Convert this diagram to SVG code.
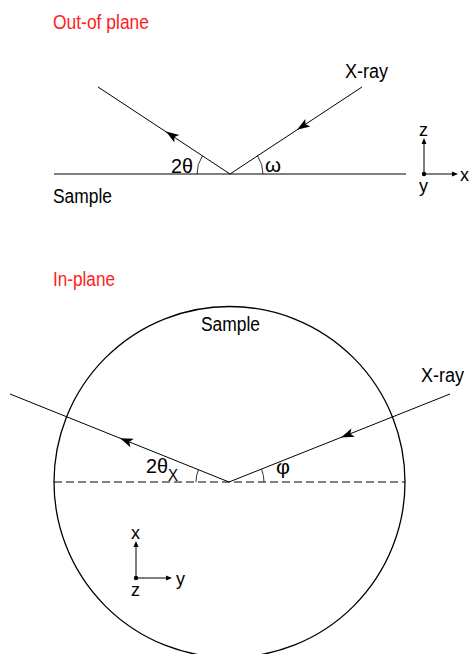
<svg xmlns="http://www.w3.org/2000/svg" width="471" height="654" viewBox="0 0 471 654">
<style>
text{font-family:"Liberation Sans",Arial,sans-serif;fill:#000}
.t{font-size:20px;fill:#ff2020}
.l{font-size:20px}
.a{font-size:18px}
.ln{stroke:#000;stroke-width:1;fill:none}
.c{stroke:#000;stroke-width:1.3;fill:none}
.d{stroke:#000;stroke-width:1;stroke-dasharray:8 4;fill:none}
.arc{stroke:#000;stroke-width:0.8;fill:none}
</style>
<defs>
<path id="ah" d="M0,0 L-13,-4.5 L-10,0 L-13,4.5 Z" fill="#000"/>
<path id="sah" d="M0,0 L-6,-2.5 L-6,2.5 Z" fill="#000"/>
</defs>
<g id="out-of-plane">
<text class="t" x="53" y="29" textLength="96" lengthAdjust="spacingAndGlyphs">Out-of plane</text>
<g id="sample-top">
<line class="ln" x1="54" y1="174" x2="406" y2="174"/>
<text class="l" x="53" y="203" textLength="59" lengthAdjust="spacingAndGlyphs">Sample</text>
</g>
<g id="connectors-top">
<line class="ln" x1="230" y1="174" x2="98" y2="87"/>
<line class="ln" x1="362" y1="87" x2="230" y2="174"/>
<use href="#ah" transform="translate(166,131.5) rotate(213.4)"/>
<use href="#ah" transform="translate(297,129.8) rotate(146.6)"/>
<path class="arc" d="M197,174 A33,33 0 0 1 202.45,155.84"/>
<path class="arc" d="M263,174 A33,33 0 0 0 257.55,155.84"/>
</g>
<text class="l" x="171" y="173" textLength="22" lengthAdjust="spacingAndGlyphs">2θ</text>
<text class="l" x="265" y="172" textLength="16" lengthAdjust="spacingAndGlyphs">ω</text>
<text class="l" x="345" y="78" textLength="43" lengthAdjust="spacingAndGlyphs">X-ray</text>
<g id="axes-top">
<line class="ln" x1="424" y1="174" x2="424" y2="143"/>
<line class="ln" x1="424" y1="174" x2="453" y2="174"/>
<use href="#sah" transform="translate(424,138) rotate(-90)"/>
<use href="#sah" transform="translate(458,174)"/>
<circle cx="424" cy="174" r="2.2" fill="#000"/>
<text class="a" x="419" y="136" textLength="9" lengthAdjust="spacingAndGlyphs">z</text>
<text class="a" x="460" y="181" textLength="9" lengthAdjust="spacingAndGlyphs">x</text>
<text class="a" x="419" y="192" textLength="9" lengthAdjust="spacingAndGlyphs">y</text>
</g>
</g>
<g id="in-plane">
<text class="t" x="53" y="286" textLength="62" lengthAdjust="spacingAndGlyphs">In-plane</text>
<g id="sample-circle">
<circle class="c" cx="229.5" cy="482" r="175.5"/>
<text class="l" x="201" y="331" textLength="59" lengthAdjust="spacingAndGlyphs">Sample</text>
</g>
<line class="d" x1="54" y1="482" x2="405" y2="482"/>
<g id="connectors-bottom">
<line class="ln" x1="229" y1="482" x2="10" y2="394"/>
<line class="ln" x1="450" y1="394" x2="229" y2="482"/>
<use href="#ah" transform="translate(120,438.2) rotate(201.9)"/>
<use href="#ah" transform="translate(341,437.4) rotate(158.3)"/>
<path class="arc" d="M196,482 A33,33 0 0 1 198.4,469.7"/>
<path class="arc" d="M264,482 A35,35 0 0 0 261.5,469.1"/>
</g>
<text class="l" x="146" y="473" textLength="22" lengthAdjust="spacingAndGlyphs">2θ</text>
<text x="168" y="481" style="font-size:16px" textLength="10" lengthAdjust="spacingAndGlyphs">X</text>
<text class="l" x="276" y="474" textLength="14" lengthAdjust="spacingAndGlyphs">φ</text>
<text class="l" x="421" y="382" textLength="43" lengthAdjust="spacingAndGlyphs">X-ray</text>
<g id="axes-bottom">
<line class="ln" x1="136" y1="578" x2="136" y2="547"/>
<line class="ln" x1="136" y1="578" x2="167" y2="578"/>
<use href="#sah" transform="translate(136,541) rotate(-90)"/>
<use href="#sah" transform="translate(172,578)"/>
<circle cx="136" cy="578" r="2.2" fill="#000"/>
<text class="a" x="131" y="539" textLength="9" lengthAdjust="spacingAndGlyphs">x</text>
<text class="a" x="176" y="585" textLength="9" lengthAdjust="spacingAndGlyphs">y</text>
<text class="a" x="131" y="596" textLength="9" lengthAdjust="spacingAndGlyphs">z</text>
</g>
</g>
</svg>
